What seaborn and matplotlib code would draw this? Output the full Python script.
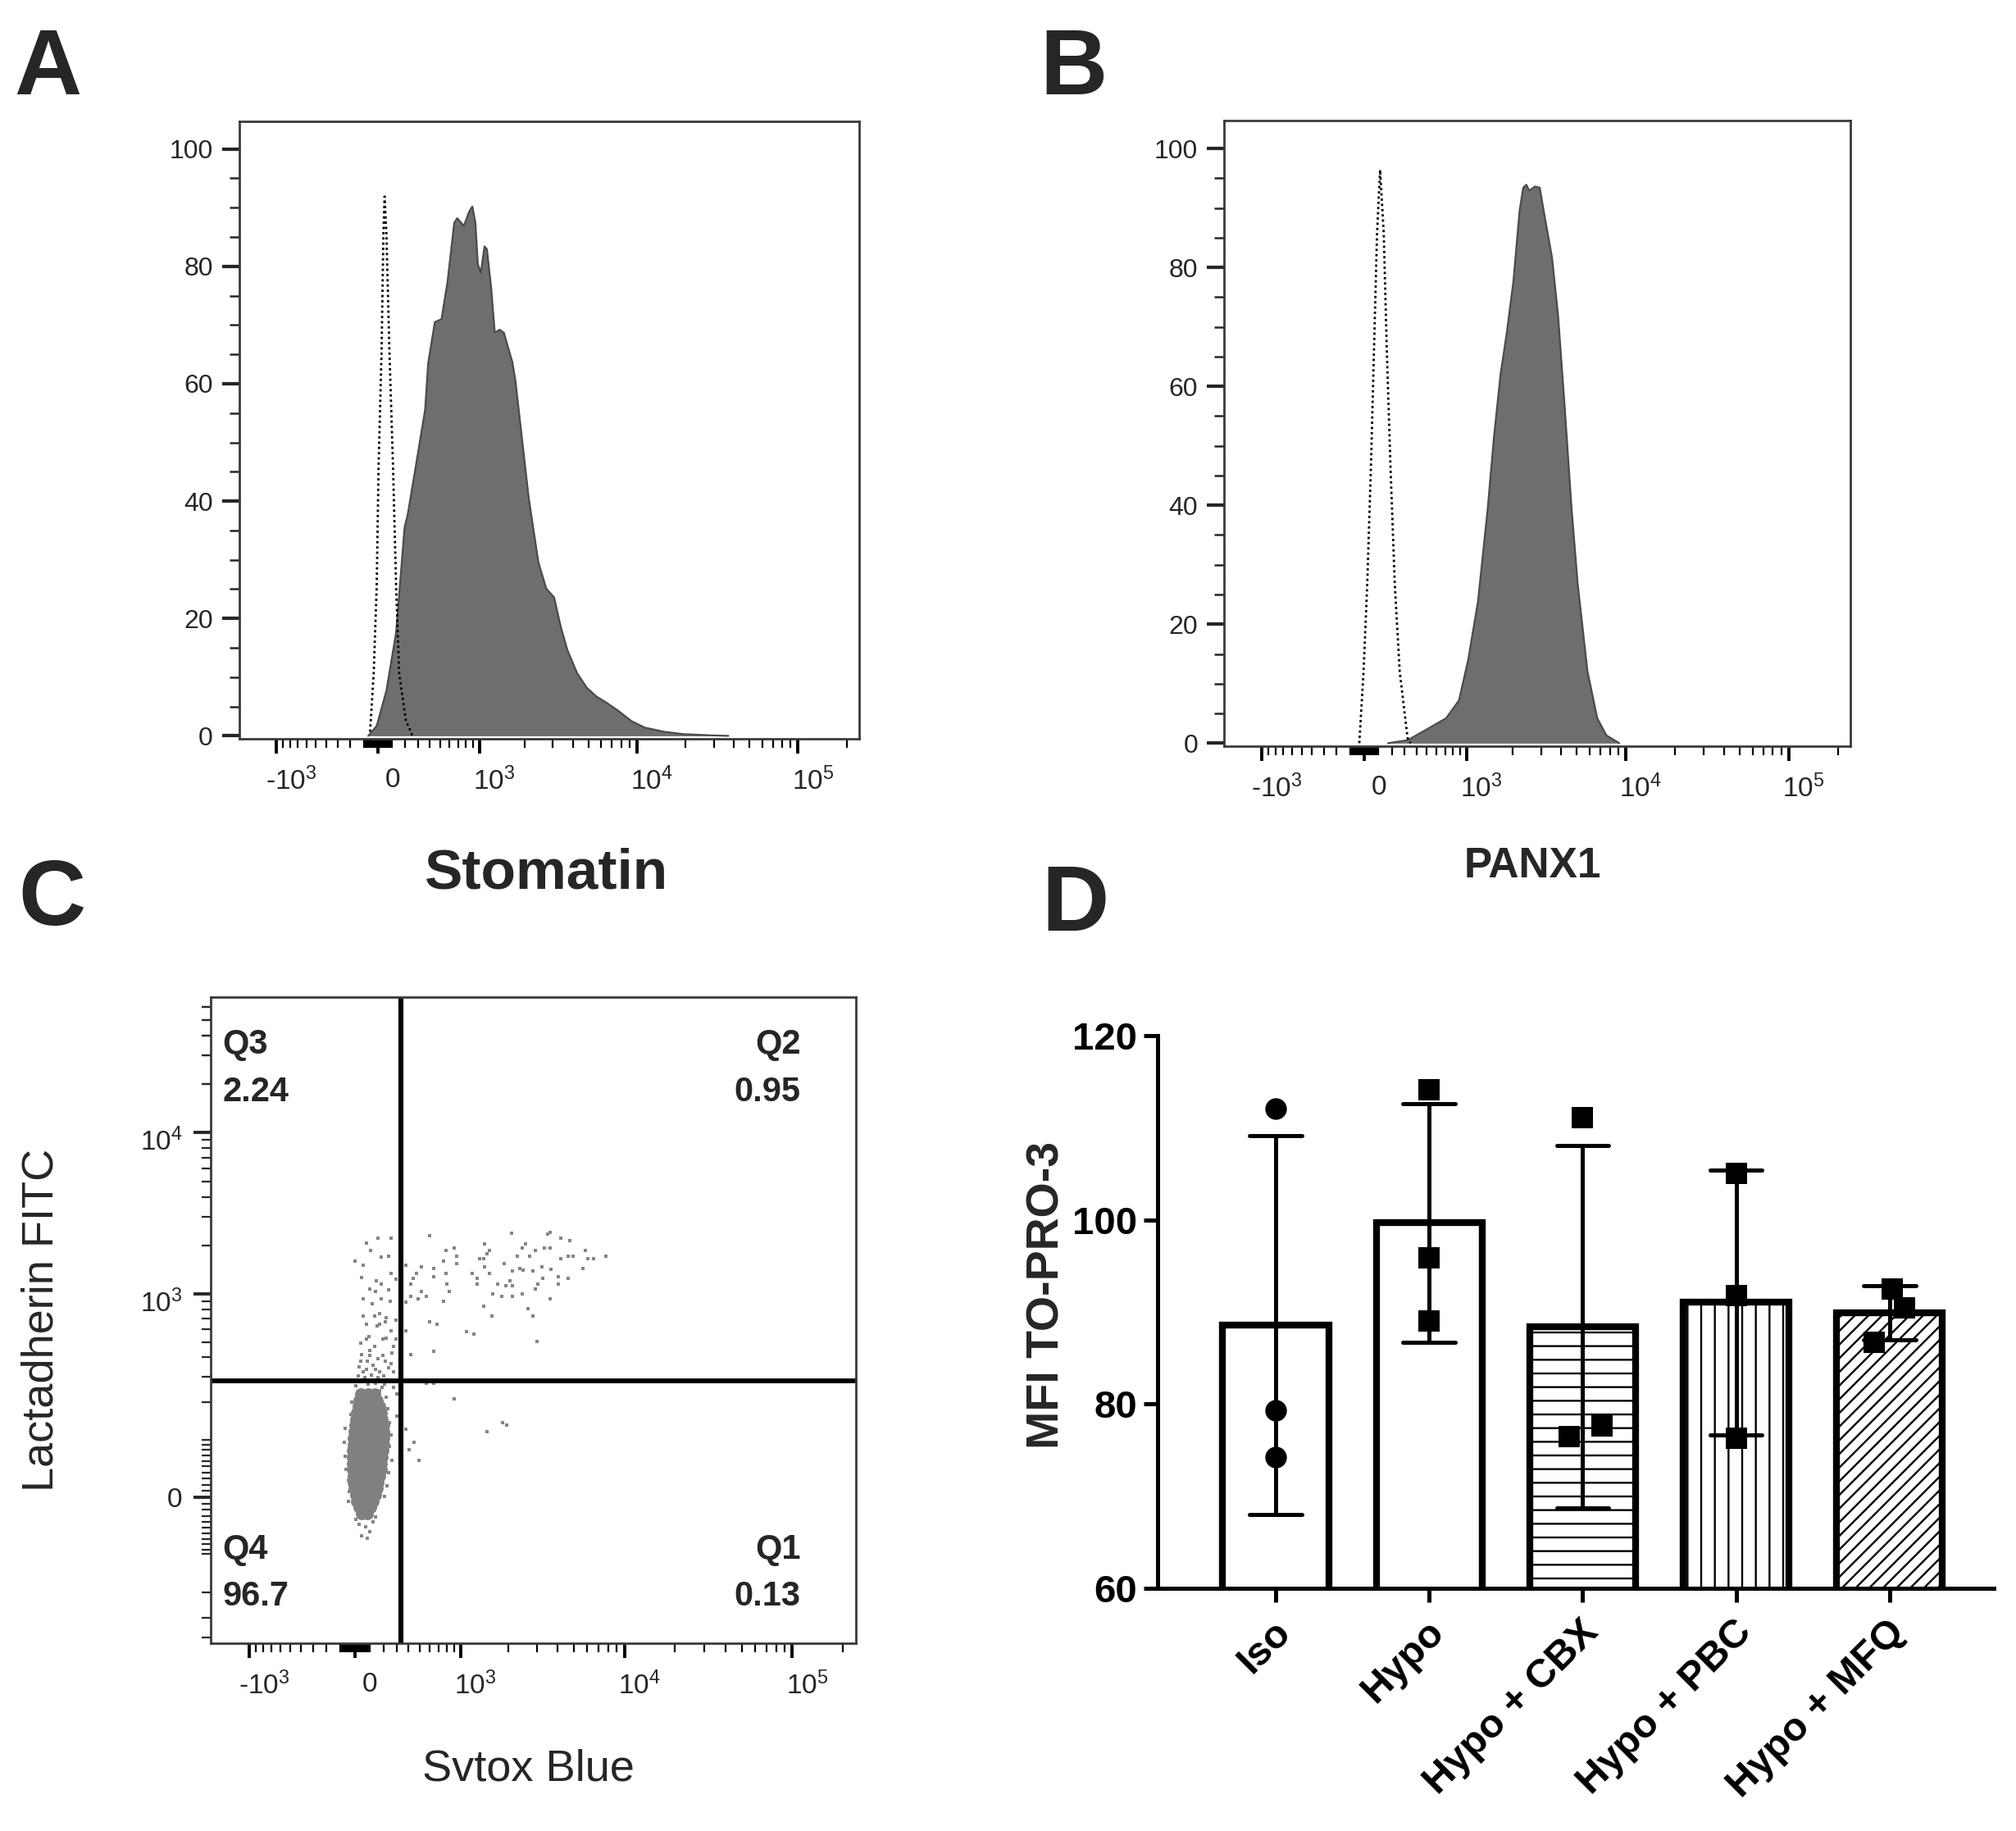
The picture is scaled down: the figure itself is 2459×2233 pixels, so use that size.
import numpy as np
import pandas as pd
import seaborn as sns
import matplotlib.pyplot as plt
from matplotlib.transforms import ScaledTranslation

# ---------------- data ----------------
# A: Stomatin histogram (x = display channel 0-1024, y = % of max)
stomatin_ch = [213, 227, 243, 259, 273, 278, 291, 307, 312, 323, 334, 344, 355, 360, 371, 380, 385, 390, 394, 399,
               405, 409, 416, 422, 430, 437, 451, 456, 467, 478, 494, 507, 520, 531, 542, 558, 574, 590, 606, 627,
               648, 670, 702, 733, 776, 808]
stomatin_pct = [0, 1.7, 7.7, 17.6, 35.5, 37.6, 45.6, 55.6, 63.5, 70.5, 71.0, 77.4, 87.4, 88.2, 86.9, 89.4, 90.2, 87.4,
                80.4, 78.9, 83.4, 82.9, 76.4, 68.7, 69.2, 68.7, 63.7, 60.6, 50.6, 40.6, 29.6, 25.1, 23.6, 18.6, 14.6,
                10.7, 8.2, 6.7, 5.7, 4.2, 2.5, 1.4, 0.7, 0.3, 0.1, 0]
stomatin_iso_ch = [216, 222, 227, 230, 235, 238, 240, 243, 248, 254, 259, 264, 275, 286]
stomatin_iso_pct = [0.7, 10.7, 25.6, 45.6, 65.5, 85.4, 91.9, 85.4, 65.5, 45.6, 25.6, 10.7, 2.7, 0]

# B: PANX1 histogram
panx_ch = [268, 300, 331, 363, 384, 399, 415, 431, 441, 452, 462, 473, 483, 489, 494, 499, 508, 516, 525, 536,
           546, 557, 568, 578, 594, 610, 625, 646]
panx_pct = [0, 0.5, 2.3, 4.2, 7.2, 14.0, 23.8, 39.5, 51.3, 62.1, 68.9, 77.7, 89.5, 93.4, 93.9, 92.9, 93.6, 93.4,
            88.0, 81.7, 71.9, 56.2, 39.5, 26.8, 12.1, 4.2, 1.3, 0]
panx_iso_ch = [221, 228, 234, 240, 245, 250, 255, 261, 266, 272, 279, 287, 300, 305]
panx_iso_pct = [0, 12.1, 26.8, 46.4, 66.0, 85.6, 96.4, 85.6, 66.0, 46.4, 26.8, 12.1, 0.8, 0]

# C: Sytox Blue vs Lactadherin events (display channels)
core_x = [238, 250, 260, 236, 248, 264, 234, 246, 258, 268, 232, 244, 256, 270, 230, 242, 254, 266, 272,
          229, 241, 253, 265, 274, 228, 240, 252, 264, 275, 227, 239, 251, 263, 275, 226, 238, 250, 262, 274,
          225, 237, 249, 261, 273, 225, 237, 249, 261, 272, 225, 237, 249, 261, 271, 225, 237, 249, 261, 270,
          226, 238, 250, 262, 268, 227, 239, 251, 266, 228, 240, 252, 264, 230, 242, 254, 262, 232, 244, 258,
          235, 245, 254, 240, 248]
core_y = [395, 395, 395, 385, 385, 385, 375, 375, 375, 375, 365, 365, 365, 365, 355, 355, 355, 355, 355,
          345, 345, 345, 345, 345, 335, 335, 335, 335, 335, 325, 325, 325, 325, 325, 315, 315, 315, 315, 315,
          305, 305, 305, 305, 305, 295, 295, 295, 295, 295, 285, 285, 285, 285, 285, 275, 275, 275, 275, 275,
          265, 265, 265, 265, 265, 255, 255, 255, 255, 245, 245, 245, 245, 235, 235, 235, 235, 225, 225, 225,
          215, 215, 215, 205, 205]
q2_x = [347, 478, 535, 538, 555, 570, 434, 499, 494, 374, 387, 442, 438, 515, 529, 538, 595, 390, 427, 433,
        486, 506, 555, 567, 575, 599, 607, 627, 370, 390, 466, 335, 434, 526, 490, 496, 479, 511, 540, 591,
        354, 354, 374, 415, 442, 327, 321, 423, 423, 475, 551, 567, 527, 375, 455, 468, 479, 519, 515, 551,
        334, 378, 447, 462, 479, 494, 329, 342, 370, 433, 538, 503, 511, 446, 347, 359, 406, 418, 518, 318,
        354, 310, 310, 310, 318, 318]
q2_y = [646, 650, 648, 651, 642, 638, 633, 633, 626, 622, 626, 622, 617, 622, 626, 626, 622, 614, 610, 610,
        614, 614, 610, 614, 614, 610, 610, 614, 605, 602, 602, 597, 597, 597, 594, 591, 590, 590, 592, 594,
        594, 581, 586, 586, 586, 586, 578, 578, 569, 574, 581, 578, 578, 569, 569, 566, 566, 569, 562, 569,
        558, 558, 554, 550, 550, 554, 546, 550, 542, 534, 546, 530, 518, 518, 510, 506, 494, 490, 478, 458,
        462, 495, 540, 599, 569, 550]
q1_x = [342, 354, 387, 463, 470, 439, 323, 315, 330, 310]
q1_y = [412, 412, 387, 350, 345, 335, 318, 306, 290, 339]
q3_x = [247, 266, 286, 254, 229, 242, 271, 282, 240, 263, 271, 286, 253, 262, 282, 242, 256, 271, 285, 242,
        260, 268, 279, 277, 247, 264, 286, 251, 238, 247, 260, 273, 279, 288, 240, 253, 266, 277, 236, 247,
        258, 268, 282, 290, 234, 245, 255, 266, 275, 294, 294, 294, 268, 253, 238, 262, 249, 242, 273, 286, 290]
q3_y = [634, 642, 642, 622, 605, 599, 612, 614, 579, 574, 569, 586, 562, 558, 560, 546, 538, 546, 542, 518,
        519, 523, 516, 510, 506, 503, 495, 486, 475, 482, 471, 482, 484, 460, 458, 456, 451, 447, 438, 434,
        441, 430, 436, 430, 423, 421, 425, 421, 423, 577, 512, 482, 506, 464, 447, 434, 447, 430, 456, 443, 471]
edge_x = [214, 212, 213, 215, 218, 220, 222, 224, 219, 283, 286, 284, 288, 282, 280, 276, 281, 278, 272, 236,
          246, 252, 240, 258, 230, 262, 248, 230, 262, 250, 240, 268, 276, 290, 296, 300, 295]
edge_y = [340, 318, 296, 276, 258, 240, 362, 382, 225, 350, 330, 312, 290, 270, 250, 232, 372, 390, 405, 188,
          184, 176, 170, 192, 196, 200, 166, 408, 412, 410, 402, 400, 410, 405, 395, 380, 360]
gate_x = 335   # Sytox Blue gate (fluorescence)
gate_y = 280   # Lactadherin gate (fluorescence)
quad_names = ["Q3", "Q2", "Q4", "Q1"]
quad_pct = ["2.24", "0.95", "96.7", "0.13"]

# D: MFI TO-PRO-3
groups = ["Iso", "Hypo", "Hypo + CBX", "Hypo + PBC", "Hypo + MFQ"]
iso_vals = [112.1, 79.3, 74.2]
hypo_vals = [114.1, 95.9, 89.0]
cbx_vals = [111.1, 76.5, 77.6]
pbc_vals = [105.0, 91.8, 76.3]
mfq_vals = [92.5, 90.4, 86.7]
point_shift = [[0, 0, 0], [0, 0, 0], [0, -0.09, 0.125], [0, 0, 0], [0.02, 0.1, -0.1]]
bar_hatch = ["", "", "-", "|", "//"]
point_marker = ["o", "s", "s", "s", "s"]


# ---------------- axis transforms (biexponential display) ----------------
def biex_x(v):
    return 229.0 + 115.7 * np.arcsinh(np.asarray(v, dtype=float) / 497.0)


def biex_y(v):
    return 231.3 + 111.2 * np.arcsinh(np.asarray(v, dtype=float) / 110.6)


minor_vals = np.concatenate([np.arange(-900, -99, 100), np.arange(-90, 91, 10), np.arange(100, 901, 100),
                             np.arange(2e3, 9.1e3, 1e3), np.arange(2e4, 9.1e4, 1e4), [2e5, 3e5]])
minor_vals = minor_vals[minor_vals != 0]

sns.set_style("ticks")
plt.rcParams["font.family"] = ["Liberation Sans", "DejaVu Sans"]
plt.rcParams["mathtext.default"] = "regular"
plt.rcParams["hatch.linewidth"] = 1.7

fig = plt.figure(figsize=(24.59, 22.33), dpi=100)
tick_col = "#262626"


def shift(labels, dx, dy):
    for t in labels:
        t.set_transform(t.get_transform() + ScaledTranslation(dx / 100, dy / 100, fig.dpi_scale_trans))


def flow_xaxis(ax):
    vals = [-1e3, 0, 1e3, 1e4, 1e5]
    ax.set_xlim(0, 1024)
    ax.set_xticks(biex_x(vals))
    ax.set_xticklabels(["-$10^{3}$", "0", "$10^{3}$", "$10^{4}$", "$10^{5}$"])
    mv = biex_x(minor_vals)
    ax.set_xticks(mv[(mv > 0) & (mv < 1024)], minor=True)
    ax.tick_params(axis="x", which="major", length=13, width=2.8, pad=12, labelsize=24,
                   labelcolor=tick_col, color="black")
    ax.tick_params(axis="x", which="minor", length=8, width=1.6, color="black")
    shift(ax.get_xticklabels(), 18, 0)


def frame(ax):
    for s in ax.spines.values():
        s.set_visible(True)
        s.set_linewidth(2)
        s.set_color("#3a3a3a")


def hist_panel(ax, ch, pct, iso_ch, iso_pct, name, size):
    ax.fill_between(ch, pct, color="#6e6e6e", linewidth=0)
    sns.lineplot(x=ch, y=pct, sort=False, estimator=None, color="#4a4a4a", lw=1.6, ax=ax)
    sns.lineplot(x=iso_ch, y=iso_pct, sort=False, estimator=None, color="black", lw=2,
                 linestyle=(0, (1, 1.3)), ax=ax)
    ax.set_ylim(-0.5, 104.7)
    ax.set_yticks([0, 20, 40, 60, 80, 100])
    ax.set_yticks(np.arange(5, 100, 5), minor=True)
    ax.tick_params(axis="y", which="major", length=15, width=3, pad=8, labelsize=23, labelcolor=tick_col)
    ax.tick_params(axis="y", which="minor", length=9, width=1.8)
    flow_xaxis(ax)
    frame(ax)
    ax.set_ylabel("")
    ax.set_xlabel(name, fontsize=size, fontweight="bold")


# ---- A ----
axA = fig.add_axes([0.1187, 0.5965, 0.3075, 0.3372])
hist_panel(axA, stomatin_ch, stomatin_pct, stomatin_iso_ch, stomatin_iso_pct, "Stomatin", 50)
axA.xaxis.label.set_va("center")
axA.xaxis.set_label_coords(0.495, -0.218)

# ---- B ----
axB = fig.add_axes([0.6072, 0.5925, 0.3107, 0.3417])
hist_panel(axB, panx_ch, panx_pct, panx_iso_ch, panx_iso_pct, "PANX1", 37)
axB.xaxis.label.set_va("center")
axB.xaxis.set_label_coords(0.493, -0.192)

# ---- C ----
axC = fig.add_axes([0.1045, 0.1026, 0.3201, 0.3528])
ev_x = q2_x + q1_x + q3_x + edge_x
ev_y = q2_y + q1_y + q3_y + edge_y
sns.scatterplot(x=core_x, y=core_y, s=115, color="#808080", linewidth=0, ax=axC)
sns.scatterplot(x=ev_x, y=ev_y, s=6, marker="s", color="#858585", linewidth=0, ax=axC)
axC.axvline(biex_x(gate_x), color="black", lw=4.4)
axC.axhline(biex_y(gate_y), color="black", lw=4.2)
flow_xaxis(axC)
axC.set_ylim(0, 1024)
axC.set_yticks(biex_y([0, 1e3, 1e4]))
axC.set_yticklabels(["0", "$10^{3}$", "$10^{4}$"])
ymv = biex_y(np.concatenate([minor_vals, [2e4, 3e4, 4e4, 5e4, 6e4]]))
axC.set_yticks(ymv[(ymv > 0) & (ymv < 1024)], minor=True)
axC.tick_params(axis="y", which="major", length=15, width=2.8, pad=10, labelsize=24, labelcolor=tick_col)
axC.tick_params(axis="y", which="minor", length=8, width=1.6)
shift(axC.get_yticklabels()[1:], 0, -8)
frame(axC)
axC.set_xlabel("Svtox Blue", fontsize=39)
axC.set_ylabel("Lactadherin FITC", fontsize=39)
axC.xaxis.label.set_va("center")
axC.yaxis.label.set_va("center")
axC.xaxis.set_label_coords(0.492, -0.195)
axC.yaxis.set_label_coords(-0.262, 0.5)
quad_pos = [(0.018, 0.926, "left"), (0.914, 0.926, "right"), (0.018, 0.145, "left"), (0.914, 0.145, "right")]
for (qx, qy, ha), nm, pc in zip(quad_pos, quad_names, quad_pct):
    axC.text(qx, qy, nm, transform=axC.transAxes, ha=ha, va="center", fontsize=30, fontweight="bold")
    axC.text(qx, qy - 0.073, pc, transform=axC.transAxes, ha=ha, va="center", fontsize=30, fontweight="bold")

# ---- D ----
axD = fig.add_axes([0.5742, 0.1326, 0.4148, 0.3018])
all_vals = [iso_vals, hypo_vals, cbx_vals, pbc_vals, mfq_vals]
df = pd.DataFrame({"group": np.repeat(groups, 3), "mfi": np.concatenate(all_vals)})
sns.barplot(data=df, x="group", y="mfi", order=groups, errorbar="sd", capsize=0.34, width=0.69,
            color="white", saturation=1, edgecolor="black", linewidth=6,
            err_kws={"color": "black", "linewidth": 3.6}, ax=axD)
for patch, h in zip(axD.patches, bar_hatch):
    patch.set_hatch(h)
for i, (vals, offs, mk) in enumerate(zip(all_vals, point_shift, point_marker)):
    axD.scatter(np.array(offs) + i, vals, s=360, marker=mk, color="black", linewidths=0, zorder=5)
axD.set_ylim(60, 120)
axD.set_xlim(-0.77, 4.68)
axD.set_yticks([60, 80, 100, 120])
sns.despine(ax=axD)
for s in ["left", "bottom"]:
    axD.spines[s].set_linewidth(3.6)
    axD.spines[s].set_color("black")
axD.tick_params(axis="both", length=12, width=3.6, color="black", labelcolor="black")
axD.tick_params(axis="y", labelsize=34, pad=6)
axD.tick_params(axis="x", labelsize=35, pad=10)
for t in axD.get_yticklabels():
    t.set_fontweight("bold")
for t in axD.get_xticklabels():
    t.set_fontweight("bold")
    t.set_rotation(45)
    t.set_ha("right")
    t.set_va("top")
    t.set_rotation_mode("anchor")
shift(axD.get_xticklabels(), -4, 0)
axD.set_xlabel("")
axD.set_ylabel("MFI TO-PRO-3", fontsize=40, fontweight="bold")
axD.yaxis.label.set_va("center")
axD.yaxis.set_label_coords(-0.132, 0.53)

# panel letters
for x, y, letter in [(0.0069, 0.9485, "A"), (0.516, 0.9485, "B"), (0.009, 0.4948, "C"), (0.5165, 0.4917, "D")]:
    fig.text(x, y, letter, fontsize=82, fontweight="bold", va="baseline", ha="left")

fig.savefig("out.png", dpi=100)
